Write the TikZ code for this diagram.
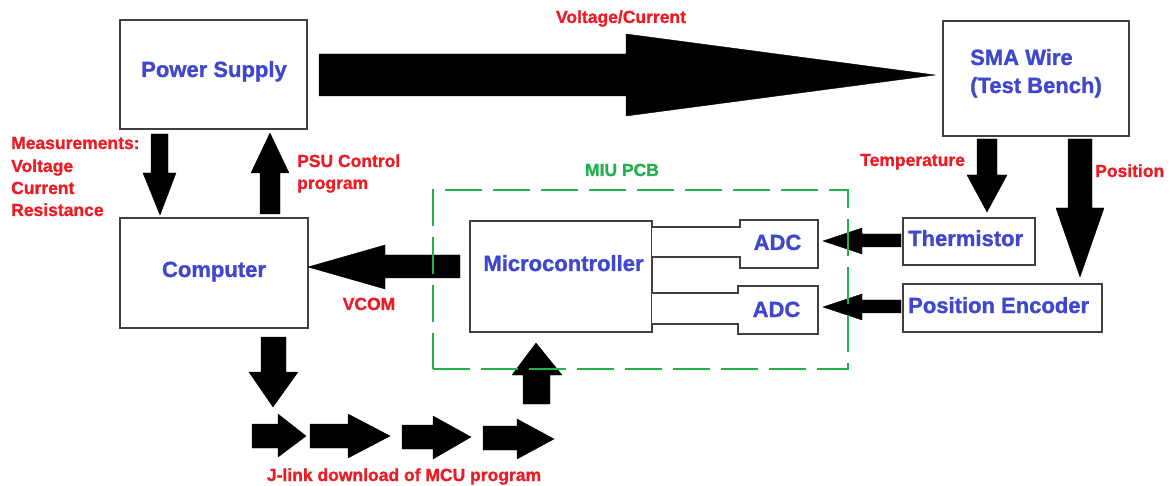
\documentclass[tikz,border=0pt]{standalone}
\usepackage{fontspec}
\setmainfont{Liberation Sans}
\newfontfamily\heavyfont{Liberation Sans Bold}[FakeBold=1.2]
\definecolor{lblue}{HTML}{3F48CC}
\definecolor{lred}{HTML}{ED1C24}
\definecolor{lgreen}{HTML}{22B14C}
\definecolor{bgray}{HTML}{404040}
\begin{document}
\begin{tikzpicture}[x=1pt,y=-1pt,
  box/.style={draw=bgray, line width=2.2pt, inner sep=0pt},
  bluetxt/.style={text=lblue, font=\fontsize{22}{26}\selectfont\heavyfont, inner sep=0pt},
  redtxt/.style={text=lred, font=\fontsize{17.5}{22}\selectfont\heavyfont, inner sep=0pt},
  greentxt/.style={text=lgreen, font=\fontsize{17.5}{22}\selectfont\heavyfont, inner sep=0pt},
  blk/.style={fill=black, draw=black, line width=0.4pt, line join=miter}
]
\useasboundingbox[fill=white] (0,0) rectangle (1170,486);

% ---------- boxes ----------
\node[box, minimum width=187pt, minimum height=109pt] (ps)   at (213.5,74.5) {};
\node[box, minimum width=188pt, minimum height=110pt] (comp) at (214,273) {};
\node[box, minimum width=186pt, minimum height=115pt] (sma)  at (1036,78.5) {};
\node[box, minimum width=132pt, minimum height=47pt]  (th)   at (969,241.5) {};
\node[box, minimum width=199pt, minimum height=48pt]  (enc)  at (1002.5,308) {};
\node[box, minimum width=182pt, minimum height=111pt] (mcu)  at (561,276.5) {};
\node[box, minimum width=78pt,  minimum height=48pt]  (adc1) at (779,244) {};
\node[box, minimum width=80pt,  minimum height=48pt]  (adc2) at (778,310) {};

% ---------- channels between MCU and ADCs ----------
\coordinate (c1t) at (0,227);
\coordinate (c1b) at (0,257);
\coordinate (c2t) at (0,293);
\coordinate (c2b) at (0,324);
\fill[white] ([xshift=-1.6pt]mcu.east |- 0,228.3) rectangle ([xshift=1.6pt]adc1.west |- 0,255.7);
\fill[white] ([xshift=-1.6pt]mcu.east |- 0,294.3) rectangle ([xshift=1.6pt]adc2.west |- 0,322.7);
\draw[box] ([xshift=-1.1pt]mcu.east |- c1t) -- ([xshift=1.1pt]adc1.west |- c1t);
\draw[box] ([xshift=-1.1pt]mcu.east |- c1b) -- ([xshift=1.1pt]adc1.west |- c1b);
\draw[box] ([xshift=-1.1pt]mcu.east |- c2t) -- ([xshift=1.1pt]adc2.west |- c2t);
\draw[box] ([xshift=-1.1pt]mcu.east |- c2b) -- ([xshift=1.1pt]adc2.west |- c2b);

% ---------- box labels ----------
\node[bluetxt, anchor=base] (pst) at (214,77) {Power Supply};
\node[bluetxt, anchor=base] (compt) at (214,277) {Computer};
\node[bluetxt, anchor=base west] (smat1) at (970,65) {SMA Wire};
\node[bluetxt, anchor=base west] (smat2) at (970,93) {(Test Bench)};
\node[bluetxt, anchor=base] (mcut) at (563.5,271) {Microcontroller};
\node[bluetxt, anchor=base] (adct1) at (777.5,250) {ADC};
\node[bluetxt, anchor=base] (adct2) at (776.5,317) {ADC};
\node[bluetxt, anchor=base west] (tht) at (908,246) {Thermistor};
\node[bluetxt, anchor=base west] (enct) at (908,313) {Position Encoder};

% ---------- red labels ----------
\node[redtxt, anchor=base] (lvc) at (621,23) {Voltage/Current};
\node[redtxt, anchor=base west] (lm1) at (11,149) {Measurements:};
\node[redtxt, anchor=base west] (lm2) at (11,172) {Voltage};
\node[redtxt, anchor=base west] (lm3) at (11,194) {Current};
\node[redtxt, anchor=base west] (lm4) at (11,216) {Resistance};
\node[redtxt, anchor=base west] (lp1) at (297,167) {PSU Control};
\node[redtxt, anchor=base west] (lp2) at (297,189) {program};
\node[redtxt, anchor=base west] (ltemp) at (860,166) {Temperature};
\node[redtxt, anchor=base west] (lpos) at (1095,177) {Position};
\node[redtxt, anchor=base] (lvcom) at (369,310) {VCOM};
\node[redtxt, anchor=base] (ljl) at (404,481) {J-link download of MCU program};
\node[greentxt, anchor=base] (lmiu) at (622,176) {MIU PCB};

% ---------- block arrows ----------
% power supply -> SMA wire
\filldraw[blk] (319,54) -- (626,54) -- (626,34) -- (935,75) -- (626,116) -- (626,96) -- (319,96) -- cycle;
% power supply -> computer (measurements)
\filldraw[blk] (151,134) -- (168,134) -- (168,173) -- (176,173) -- (160,215) -- (143,173) -- (151,173) -- cycle;
% computer -> power supply (PSU control)
\filldraw[blk] (260,214) -- (260,173) -- (251,173) -- (270,133) -- (289,173) -- (280,173) -- (280,214) -- cycle;
% SMA -> thermistor
\filldraw[blk] (977,139) -- (997,139) -- (997,175) -- (1007,175) -- (987,212) -- (967,175) -- (977,175) -- cycle;
% SMA -> position encoder
\filldraw[blk] (1068,139) -- (1092,139) -- (1092,208) -- (1104,208) -- (1080,277) -- (1056,208) -- (1068,208) -- cycle;
% thermistor -> ADC
\filldraw[blk] (901,234) -- (862,234) -- (862,228) -- (823,241) -- (862,254) -- (862,247) -- (901,247) -- cycle;
% encoder -> ADC
\filldraw[blk] (901,300) -- (862,300) -- (862,294) -- (823,307) -- (862,320) -- (862,313) -- (901,313) -- cycle;
% MCU -> computer (VCOM)
\filldraw[blk] (460,255) -- (385,255) -- (385,245) -- (308,267) -- (385,289) -- (385,278) -- (460,278) -- cycle;
% computer -> down
\filldraw[blk] (261,337) -- (286,337) -- (286,372) -- (298,372) -- (273,407) -- (249,372) -- (261,372) -- cycle;
% up -> MCU
\filldraw[blk] (523,404) -- (523,375) -- (512,375) -- (536,343) -- (562,375) -- (550,375) -- (550,404) -- cycle;
% J-link chain
\filldraw[blk] (252,424) -- (278,424) -- (278,414) -- (306,436) -- (278,457) -- (278,448) -- (252,448) -- cycle;
\filldraw[blk] (310,424) -- (348,424) -- (348,414) -- (390,436) -- (348,458) -- (348,448) -- (310,448) -- cycle;
\filldraw[blk] (402,425) -- (433,425) -- (433,416) -- (471,437) -- (433,459) -- (433,449) -- (402,449) -- cycle;
\filldraw[blk] (483,426) -- (517,426) -- (517,419) -- (554,439) -- (517,459) -- (517,450) -- (483,450) -- cycle;

% ---------- MIU PCB dashed frame ----------
\node[draw=lgreen, line width=2pt, dash pattern=on 37pt off 11pt,
      minimum width=415pt, minimum height=179pt, inner sep=0pt] (miu) at (640.5,279.5) {};
\end{tikzpicture}
\end{document}
